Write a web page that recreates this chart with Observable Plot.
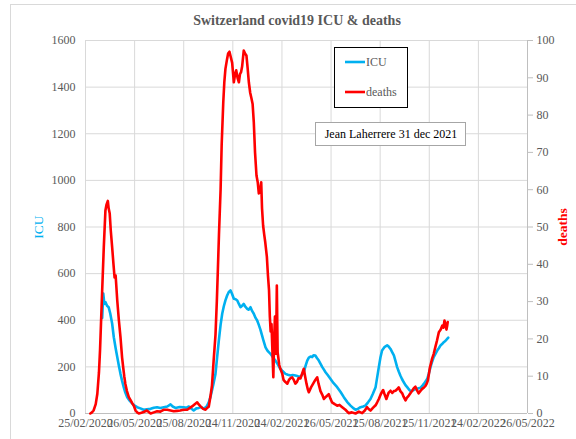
<!DOCTYPE html>
<html>
<head>
<meta charset="utf-8">
<script src="https://cdn.jsdelivr.net/npm/d3@7"></script>
<script src="https://cdn.jsdelivr.net/npm/@observablehq/plot@0.6"></script>
<style>
  html, body { margin: 0; padding: 0; background: white; }
  #chart { width: 576px; height: 439px; }
  #chart svg text { font-family: "Liberation Serif", "Times New Roman", serif; }
</style>
</head>
<body>
<div id="chart"></div>
<script>
// Days since 25/02/2020
const tickDays = [0, 91.25, 182.5, 273.75, 365, 456.25, 547.5, 638.75, 730, 821.25];
const tickLabels = ["25/02/2020","26/05/2020","25/08/2020","24/11/2020","24/02/2021","26/05/2021","25/08/2021","25/11/2021","24/02/2022","26/05/2022"];
const icuTicks = [0,200,400,600,800,1000,1200,1400,1600];
const deathTicks = [0,10,20,30,40,50,60,70,80,90,100];

const icuDays = [31,33,35,37,40,43,46,49.5,52.6,56,59,62,65,68,71,74,77.5,82,87,92,96,102,108,114,121,127,133,139,145.5,152,158,162,167,175,182.6,188,192,197,201,206,210.6,215,220,225,229,232,235,238,241.5,244.5,247.7,251,254,257,260,263,266,269.4,272,275.6,279,282,285,288,291,294,297,300.5,303,306.6,309.5,312.7,316,319,322,325,328,331,334.5,338,341,343.7,347,350,353,357,362,366,371.6,376,381,385,390,395,399.5,402,405.6,409,412,415,418,421,424,427,430,433.5,437,440,443,446,450,455,461,467.6,474,480,486,492.4,497,501.7,506,511,516,520,525,529.5,534,539,545,548,551,556,560.5,563,566.7,570,573,576,579,582,585,588,591.4,594.5,597.7,601,604,607,610,613,616,619,622.5,625.6,628.6,632,635,638,641,644,647,650,653.5,656.5,659.6,662.5,665.7,669,672,674];
const icuValues = [410,515,470,478,462,456,429,386,327,280,242,205,170,140,113,90,70,55,42,33,27,22,16,18,20,25,27,24,27,30,39,30,24,28,27,25,30,20,13,22,24,28,20,30,48,70,99,130,170,240,313,380,428,460,485,505,520,528,515,492,490,485,470,456,462,470,458,449,445,456,440,428,410,399,380,360,335,310,284,270,262,256,245,235,227,212,192,182,170,166,163,165,163,160,159,165,177,205,227,240,244,242,250,249,238,227,212,199,188,177,165,149,130,113,92,70,50,34,24,16,20,27,30,34,48,62,85,113,199,240,270,286,292,288,277,262,249,225,199,180,163,148,134,122,113,103,96,98,101,105,106,108,110,118,127,138,149,172,199,222,242,255,270,280,292,298,306,312,320,325];

const deathDays = [9,12,15,19,22,25,27,29,31,34,37,39,41.5,43,45,47,49.5,52,54,56,59,62,65,68,70,72,74,77,80.5,84,87,90,93,96,99,104,108,114,121,127,133,139,145,152,158,164,170,176,182,189,194,198,203,207.5,210,213.7,218,223,226,229,232,235,238,241.5,244,246,248,251,253,256,258,260,263,265,267.5,270,272.5,275.6,278,280,282.5,285,287,289,291,294,296.5,299,301,303.5,306,308.5,310.5,312.7,315,317.7,320,322,324,326.5,328,330,332,334,337,339,341,342.5,344,345.6,347,349,350.5,352,354,355.5,357,360,362,365.5,368,371,375,378,381,384,387,390,393,396,399.5,402,405.6,408,410.6,413,415,419,423,427,430.5,433,436.6,440,443,447,452,455,458,463,467.6,472,477,483,489,495,501.7,508,514,519,523,526,529.5,534,539,542,545,549,553,556,559,563,566.7,570,573,576,579,582,585,588.5,591,594.6,597,600.7,604,607,610,613,616,619,622,625.6,629,631.7,634,636,638,640,642,644,647,650,653,656.5,660,663,665,667,669,670.7,672,673];
const deathValues = [0,0.3,0.8,2.5,5.3,11,17,25,33,44.6,54.4,56,57,55,53.6,49,44.6,40,36.5,37,30.3,25,20.5,15,12.4,10,8,6,4.4,3.5,2.7,2,0.8,0.3,0,0.2,0.4,0.8,0,0.3,0.6,0.5,1,1,0.8,0.6,0.7,0.8,1,1,1.5,1.9,2.5,3,2.5,1.9,1.3,1,1.5,1.8,4.4,7.5,14,21,30,38.8,48,60,72,83.5,89,92.4,95,96.5,97,95.5,94,88.8,91,92,90,88.8,91,91.5,93,97.3,96.5,96,93,88.8,86,84.4,83,78.1,70,63.8,62,59,59.3,62,55,50.4,48,45.9,42,37,33,26,22,24,18,9.7,20,26,16,34.3,16.4,13,12,10.7,9,8.5,8,9,9.5,9.7,9,8,8.5,9.5,9.4,10.5,12,10,8,6.5,5.7,7,8,9,9.7,8,6,5,3.9,4.5,5.2,4,3,2.5,2.1,2.3,1.7,1,0.1,0.3,0,0.5,0.1,0.8,1.7,1.2,0.8,1.5,2.2,3,3.9,5.3,6.3,5,3.9,5.5,6.1,5.5,6,6.1,6.5,7,6,5.4,4.5,3.5,4.2,4.8,5.5,6.1,6.8,7.2,6.2,5.4,6,6.6,7,7.4,8,8.8,10.5,12.4,13.5,14.7,16,17.8,19.5,21.8,22.5,23.6,23,24.9,23.8,22.5,23.5,24.5];

const DEATH_SCALE = 16; // right axis 0-100 maps onto left axis 0-1600
const BLUE = "#00B0F0", RED = "#FF0000", TEXT = "#595959", GRID = "#D9D9D9";
const FONT = "Liberation Serif";

const icu = icuDays.map((d, i) => ({day: d, value: icuValues[i]}));
const deaths = deathDays.map((d, i) => ({day: d, value: deathValues[i] * DEATH_SCALE}));
const labelByDay = new Map(tickDays.map((d, i) => [d, tickLabels[i]]));

const svg = Plot.plot({
  width: 576,
  height: 439,
  marginLeft: 85,
  marginRight: 49,
  marginTop: 40,
  marginBottom: 26,
  style: {fontFamily: FONT, fontSize: "12px", color: TEXT, background: "white", overflow: "visible"},
  x: {type: "linear", domain: [0, 821.25]},
  y: {domain: [0, 1600]},
  marks: [
    Plot.ruleX(tickDays, {stroke: GRID, strokeWidth: 1}),
    Plot.ruleY(icuTicks, {stroke: GRID, strokeWidth: 1}),
    Plot.ruleY([0], {stroke: "#BFBFBF"}),
    Plot.ruleX([821.25], {stroke: "#BFBFBF"}),
    Plot.axisX({ticks: tickDays, tickFormat: d => labelByDay.get(d), tickSize: 0, tickPadding: 5, label: null, fill: TEXT, fontSize: 12, fontFamily: FONT}),
    Plot.axisY({ticks: icuTicks, tickFormat: d => String(d), tickSize: 0, tickPadding: 10, label: null, fill: TEXT, fontSize: 12, fontFamily: FONT}),
    Plot.axisY({anchor: "right", ticks: deathTicks.map(d => d * DEATH_SCALE), tickFormat: d => String(d / DEATH_SCALE), tickSize: 5, tickPadding: 4, stroke: "#BFBFBF", label: null, fill: TEXT, fontSize: 12, fontFamily: FONT}),
    Plot.line(icu, {x: "day", y: "value", stroke: BLUE, strokeWidth: 2.6, curve: "linear"}),
    Plot.line(deaths, {x: "day", y: "value", stroke: RED, strokeWidth: 2.6, curve: "linear"})
  ]
});

const s = d3.select(svg);
// outer chart border
s.insert("rect", ":first-child").attr("x", 10.5).attr("y", 4.5).attr("width", 580).attr("height", 440)
  .attr("fill", "white").attr("stroke", GRID);

// title
s.append("text").attr("x", 297).attr("y", 25).attr("text-anchor", "middle")
  .attr("font-family", FONT).attr("font-weight", "bold").attr("font-size", 14)
  .attr("fill", TEXT).text("Switzerland covid19 ICU & deaths");

// axis titles
s.append("text").attr("transform", "translate(43,227) rotate(-90)").attr("text-anchor", "middle")
  .attr("font-family", FONT).attr("font-size", 13.5).attr("fill", BLUE).text("ICU");
s.append("text").attr("transform", "translate(567,227) rotate(-90)").attr("text-anchor", "middle")
  .attr("font-family", FONT).attr("font-weight", "bold").attr("font-size", 13.5).attr("fill", RED).text("deaths");

// legend
const lg = s.append("g");
lg.append("rect").attr("x", 334.5).attr("y", 47.5).attr("width", 73).attr("height", 60)
  .attr("fill", "white").attr("stroke", "#000").attr("stroke-width", 1);
[["ICU", BLUE, 62], ["deaths", RED, 92]].forEach(([t, c, y]) => {
  lg.append("line").attr("x1", 345).attr("x2", 365).attr("y1", y).attr("y2", y).attr("stroke", c).attr("stroke-width", 2.6);
  lg.append("text").attr("x", 366).attr("y", y).attr("dy", "0.35em").attr("text-anchor", "start").attr("font-family", FONT)
    .attr("font-size", 12).attr("fill", TEXT).text(t);
});

// annotation
s.append("rect").attr("x", 315.5).attr("y", 122.5).attr("width", 150).attr("height", 23)
  .attr("fill", "white").attr("stroke", "#A6A6A6");
s.append("text").attr("x", 391).attr("y", 134).attr("dy", "0.35em").attr("text-anchor", "middle")
  .attr("font-family", FONT).attr("font-size", 12).attr("fill", "#000").text("Jean Laherrere 31 dec 2021");

document.getElementById("chart").appendChild(svg);
</script>
</body>
</html>
